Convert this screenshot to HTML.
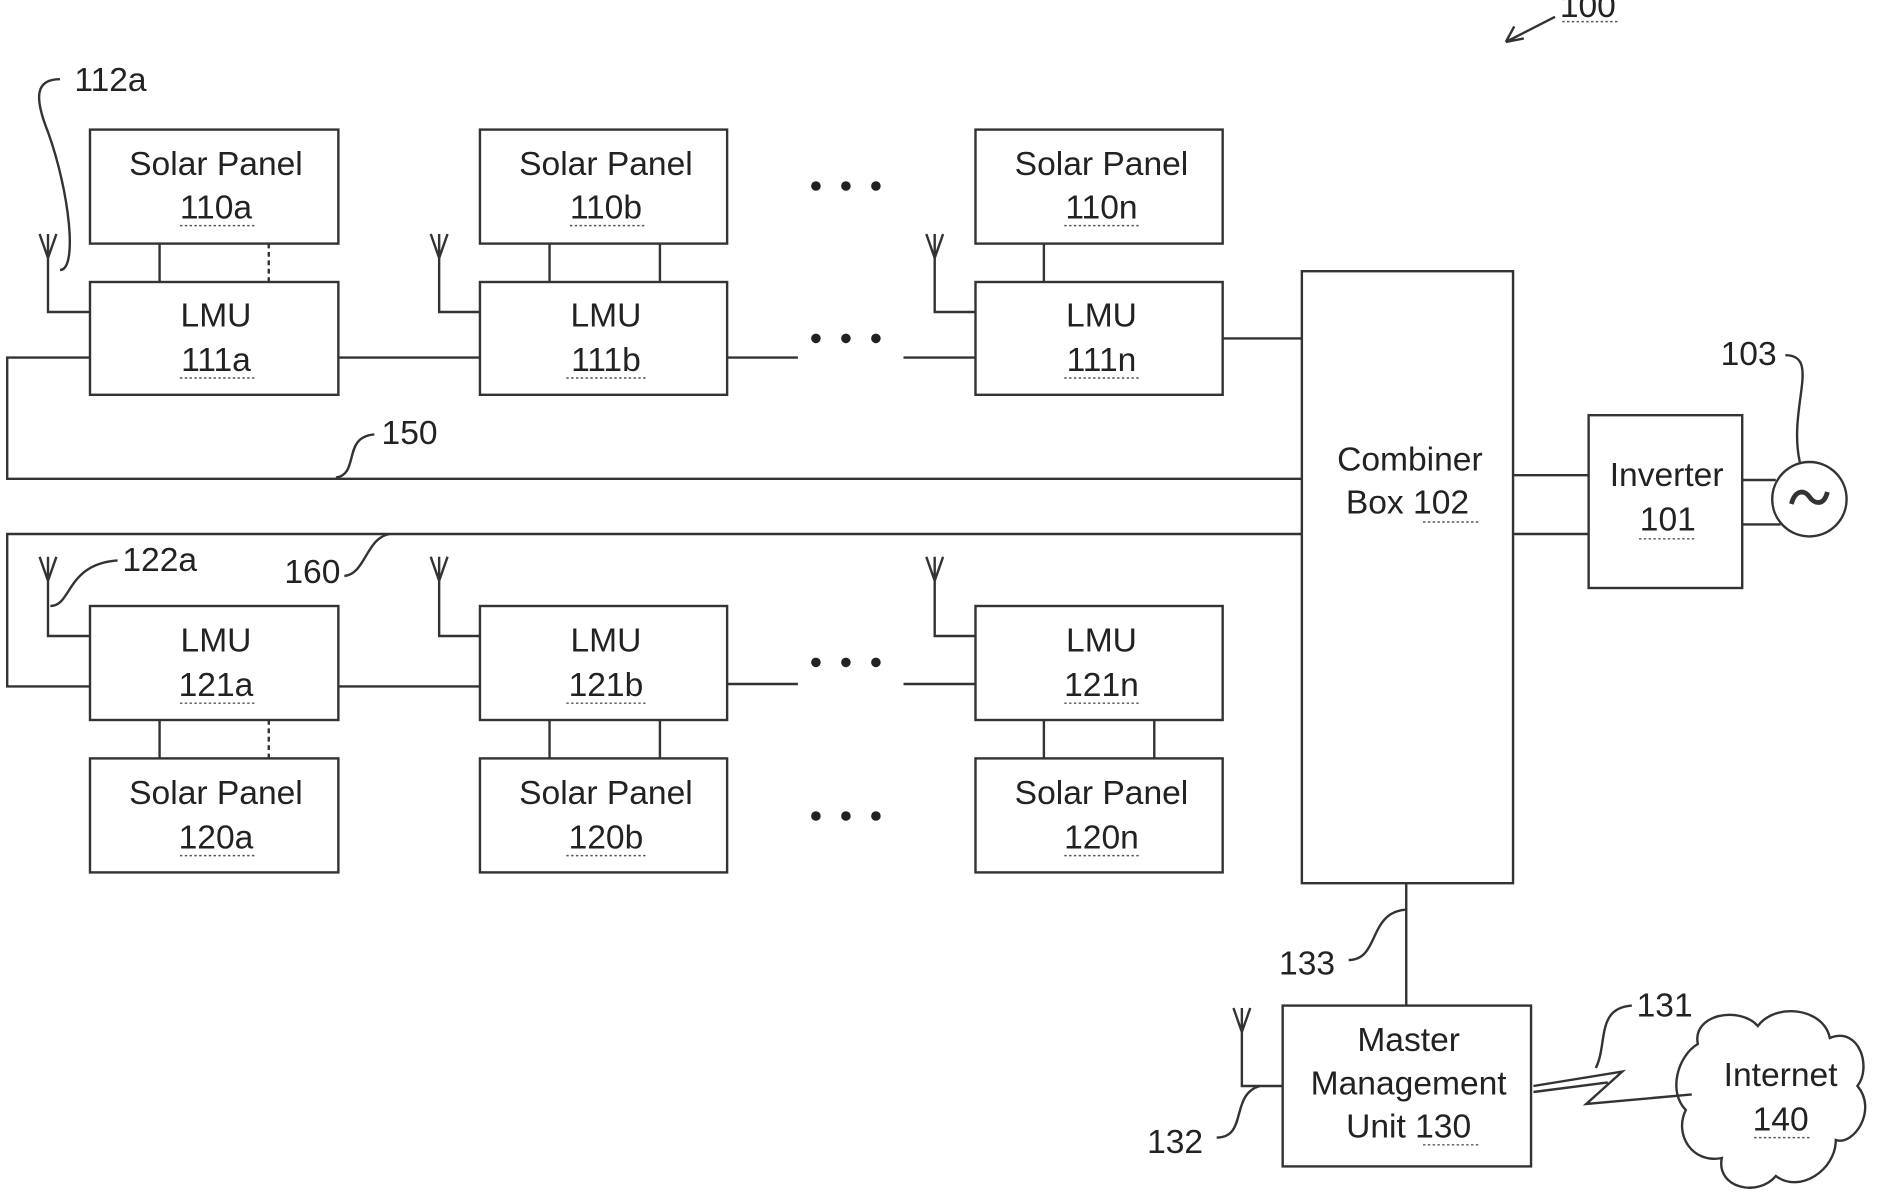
<!DOCTYPE html>
<html><head><meta charset="utf-8"><style>
html,body{margin:0;padding:0;background:#fff;}
svg{display:block}
text{font-family:"Liberation Sans",sans-serif;font-size:28px;fill:#222;}
</style></head><body>
<svg width="1879" height="1197" viewBox="0 0 1566 997.5" preserveAspectRatio="none" xmlns="http://www.w3.org/2000/svg">
<g stroke="#333" stroke-width="2" fill="none">
<rect x="75" y="108" width="207" height="95"/>
<rect x="400" y="108" width="206" height="95"/>
<rect x="813" y="108" width="206" height="95"/>
<rect x="75" y="235" width="207" height="94"/>
<rect x="400" y="235" width="206" height="94"/>
<rect x="813" y="235" width="206" height="94"/>
<line x1="133" y1="203" x2="133" y2="235"/>
<line x1="224" y1="203" x2="224" y2="235" stroke-dasharray="4 3"/>
<line x1="458" y1="203" x2="458" y2="235"/>
<line x1="550" y1="203" x2="550" y2="235"/>
<line x1="870" y1="203" x2="870" y2="235"/>
<path d="M40 215V260H75 M33 195L40 215L47 195 M40 195V215"/>
<path d="M366 215V260H400 M359 195L366 215L373 195 M366 195V215"/>
<path d="M779 215V260H813 M772 195L779 215L786 195 M779 195V215"/>
<path d="M50 225C65 225 58 160 40 110C28 80 30 66 50 66"/>
<path d="M282 298H400 M606 298H665 M753 298H813 M1019 282H1085"/>
<path d="M75 298H6V399H1085"/>
<path d="M280 398C300 395 285 364 312 362"/>
<path d="M1085 445H6V572H75"/>
<path d="M287 480C305 478 305 448 325 445"/>
<rect x="75" y="505" width="207" height="95"/>
<rect x="400" y="505" width="206" height="95"/>
<rect x="813" y="505" width="206" height="95"/>
<rect x="75" y="632" width="207" height="95"/>
<rect x="400" y="632" width="206" height="95"/>
<rect x="813" y="632" width="206" height="95"/>
<line x1="133" y1="600" x2="133" y2="632"/>
<line x1="224" y1="600" x2="224" y2="632" stroke-dasharray="4 3"/>
<line x1="458" y1="600" x2="458" y2="632"/>
<line x1="550" y1="600" x2="550" y2="632"/>
<line x1="870" y1="600" x2="870" y2="632"/>
<line x1="962" y1="600" x2="962" y2="632"/>
<path d="M282 572H400 M606 570H665 M753 570H813"/>
<path d="M40 484V530H75 M33 464L40 484L47 464 M40 464V484"/>
<path d="M366 484V530H400 M359 464L366 484L373 464 M366 464V484"/>
<path d="M779 484V530H813 M772 464L779 484L786 464 M779 464V484"/>
<path d="M42 505C60 505 55 470 98 467"/>
<rect x="1085" y="226" width="176" height="510"/>
<rect x="1324" y="346" width="128" height="144"/>
<path d="M1261 396H1324 M1261 445H1324 M1452 400H1480 M1452 437H1484"/>
<circle cx="1508" cy="416" r="31"/>
<path d="M1493 420C1496 408 1504 408 1508 414C1512 420 1520 422 1523 410" stroke-width="4"/>
<path d="M1488 296C1518 296 1490 340 1500 385"/>
<line x1="1172" y1="736" x2="1172" y2="838"/>
<path d="M1124 800C1150 800 1140 760 1172 758"/>
<rect x="1069" y="838" width="207" height="134"/>
<path d="M1035 860V905H1069 M1028 840L1035 860L1042 840 M1035 840V860"/>
<path d="M1014 948C1040 948 1025 912 1050 905"/>
<path d="M1278 905L1352 893L1322 920L1410 912 M1278 910L1340 902"/>
<path d="M1330 890C1340 870 1330 840 1360 838"/>
<path d="M1415 870C1410 845 1450 838 1465 855C1480 835 1520 840 1525 865C1550 855 1560 890 1548 905C1565 925 1545 955 1530 950C1530 975 1500 995 1480 980C1465 998 1430 990 1435 965C1410 970 1395 945 1405 925C1390 910 1398 880 1415 870Z"/>
<path d="M1296 14L1255 35 M1255 35L1262 22 M1255 35L1270 32"/>
</g>
<g fill="#222">
<circle cx="680" cy="155" r="4"/><circle cx="705" cy="155" r="4"/><circle cx="730" cy="155" r="4"/>
<circle cx="680" cy="282" r="4"/><circle cx="705" cy="282" r="4"/><circle cx="730" cy="282" r="4"/>
<circle cx="680" cy="552" r="4"/><circle cx="705" cy="552" r="4"/><circle cx="730" cy="552" r="4"/>
<circle cx="680" cy="680" r="4"/><circle cx="705" cy="680" r="4"/><circle cx="730" cy="680" r="4"/>
</g>
<g text-anchor="middle">
<text x="180" y="146">Solar Panel</text><text x="180" y="182">110a</text>
<text x="505" y="146">Solar Panel</text><text x="505" y="182">110b</text>
<text x="918" y="146">Solar Panel</text><text x="918" y="182">110n</text>
<text x="180" y="272">LMU</text><text x="180" y="309">111a</text>
<text x="505" y="272">LMU</text><text x="505" y="309">111b</text>
<text x="918" y="272">LMU</text><text x="918" y="309">111n</text>
<text x="180" y="543">LMU</text><text x="180" y="580">121a</text>
<text x="505" y="543">LMU</text><text x="505" y="580">121b</text>
<text x="918" y="543">LMU</text><text x="918" y="580">121n</text>
<text x="180" y="670">Solar Panel</text><text x="180" y="707">120a</text>
<text x="505" y="670">Solar Panel</text><text x="505" y="707">120b</text>
<text x="918" y="670">Solar Panel</text><text x="918" y="707">120n</text>
<text x="1175" y="392">Combiner</text><text x="1173" y="428">Box  102</text>
<text x="1389" y="405">Inverter</text><text x="1390" y="442">101</text>
<text x="1174" y="876">Master</text><text x="1174" y="912">Management</text><text x="1174" y="948">Unit  130</text>
<text x="1484" y="905">Internet</text><text x="1484" y="942">140</text>
</g>
<text x="62" y="76">112a</text>
<text x="318" y="370">150</text>
<text x="102" y="476">122a</text>
<text x="237" y="486">160</text>
<text x="1434" y="304">103</text>
<text x="1066" y="812">133</text>
<text x="1364" y="847">131</text>
<text x="956" y="961">132</text>
<text x="1300" y="14">100</text>
<g stroke="#555" stroke-width="1.2" stroke-dasharray="2 2">
<path d="M150 188H212 M475 188H537 M887 188H949 M150 315H212 M472 315H538 M887 315H950 M150 586H212 M472 586H538 M887 586H950 M150 713H212 M472 713H538 M887 713H950 M1186 435H1234 M1366 449H1414 M1186 954H1234 M1462 948H1508 M1302 18H1350"/>
</g>
</svg>
</body></html>
